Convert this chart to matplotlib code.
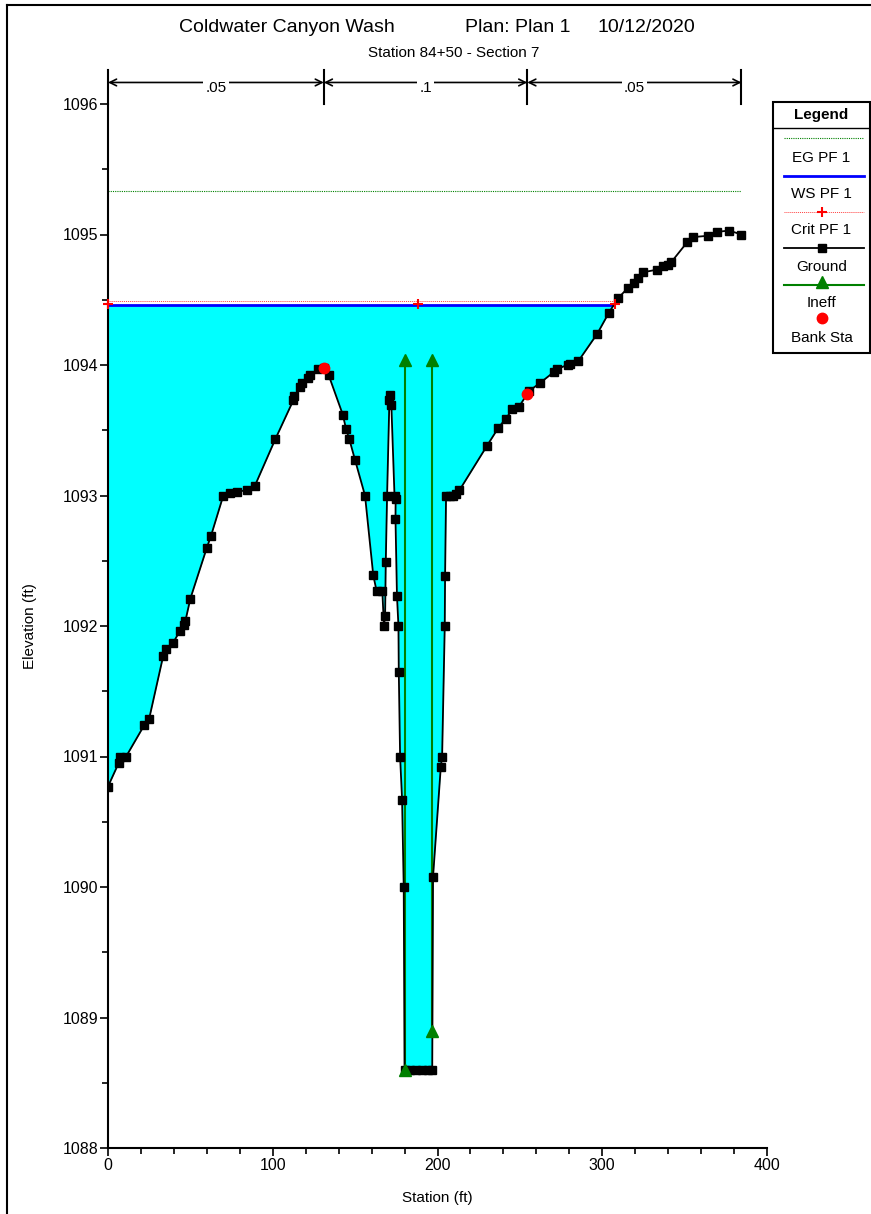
import matplotlib

matplotlib.use("Agg")
import matplotlib.pyplot as plt
from matplotlib.lines import Line2D
from matplotlib.patches import Rectangle
import numpy as np

plt.rcParams["font.family"] = ["Liberation Sans", "DejaVu Sans"]

# ---- cross-section geometry (station ft, elevation ft) ----
STATION = [
    0.0, 6.5, 7.5, 11.0, 22.0, 25.0, 33.5, 35.0, 39.5, 43.5,
    46.0, 47.0, 50.0, 60.0, 62.5, 70.0, 74.0, 78.0, 84.5, 89.0,
    101.5, 112.5, 113.0, 116.5, 118.0, 121.5, 122.5, 127.5, 131.0, 134.0,
    142.5, 144.5, 146.5, 150.0, 156.0, 161.0, 163.0, 166.5, 167.5, 168.2,
    168.6, 169.4, 170.8, 171.4, 172.0, 173.9, 174.6, 174.5, 175.4, 176.3,
    176.5, 177.3, 178.5, 179.5, 180.0, 183.5, 187.0, 190.5, 194.0, 196.8,
    197.3, 202.0, 202.8, 204.4, 204.6, 205.2, 207.5, 209.5, 211.5, 213.3,
    230.0, 237.0, 241.5, 245.5, 249.5, 255.5, 262.0, 271.0, 272.5, 279.0,
    280.5, 285.5, 297.0, 304.0, 309.5, 315.5, 319.5, 322.0, 324.5, 333.0,
    337.0, 340.0, 342.0, 351.5, 355.0, 364.0, 369.5, 377.0, 384.5,
]
ELEVATION = [
    1090.77, 1090.95, 1091.00, 1091.00, 1091.24, 1091.29, 1091.77, 1091.82, 1091.87, 1091.96,
    1092.01, 1092.04, 1092.21, 1092.60, 1092.69, 1093.00, 1093.02, 1093.03, 1093.04, 1093.07,
    1093.43, 1093.73, 1093.76, 1093.83, 1093.86, 1093.90, 1093.92, 1093.97, 1093.98, 1093.92,
    1093.62, 1093.51, 1093.43, 1093.27, 1093.00, 1092.39, 1092.27, 1092.27, 1092.00, 1092.08,
    1092.49, 1093.00, 1093.73, 1093.77, 1093.69, 1093.00, 1092.97, 1092.82, 1092.23, 1092.00,
    1091.65, 1091.00, 1090.67, 1090.00, 1088.60, 1088.60, 1088.60, 1088.60, 1088.60, 1088.60,
    1090.08, 1090.92, 1091.00, 1092.00, 1092.38, 1093.00, 1093.00, 1093.00, 1093.01, 1093.04,
    1093.38, 1093.52, 1093.59, 1093.66, 1093.68, 1093.80, 1093.86, 1093.95, 1093.97, 1094.00,
    1094.01, 1094.03, 1094.24, 1094.40, 1094.51, 1094.59, 1094.63, 1094.67, 1094.71, 1094.73,
    1094.76, 1094.77, 1094.79, 1094.94, 1094.98, 1094.99, 1095.02, 1095.03, 1095.00,
]
BANK_STA = [131.0, 254.5]
N_VALUES = [".05", ".1", ".05"]

# ---- profile PF 1 ----
WS_ELEV = 1094.46
CRIT_ELEV = 1094.47
CRIT_STA = [0.0, 188.0, 307.7]
EG_ELEV = 1095.33

# ---- ineffective flow areas ----
INEFF_STA = [180.0, 196.5]
INEFF_LOW = [1088.60, 1088.90]
INEFF_ELEV = 1094.04

W, H = 871, 1214
fig = plt.figure(figsize=(W / 100, H / 100), dpi=100)


def fx(px):
    return px / W


def fy(py):
    return 1 - py / H


ax = fig.add_axes([fx(108), fy(1148), (767 - 108) / W, (1148 - 104) / H])

sta = np.array(STATION)
elev = np.array(ELEVATION)

# right water edge: where the right overbank climbs through the WS
k = np.where((sta[:-1] > 250) & (elev[:-1] <= WS_ELEV) & (elev[1:] > WS_ELEV))[0][0]
ws_edge = np.interp(WS_ELEV, elev[k:k + 2], sta[k:k + 2])

# water fill
xs = np.append(sta[sta < ws_edge], ws_edge)
ys = np.append(elev[sta < ws_edge], WS_ELEV)
ax.fill_between(xs, ys, WS_ELEV, color="#00ffff", lw=0, zorder=1)

# energy grade, water surface, critical
ax.plot([sta[0], sta[-1]], [EG_ELEV, EG_ELEV], color="#008000", lw=0.8,
        ls=(0, (1, 1)), zorder=2)
ax.plot([sta[0], ws_edge], [WS_ELEV, WS_ELEV], color="#0000ff", lw=2.0, zorder=3)
ax.plot([sta[0], ws_edge], [CRIT_ELEV + 0.02, CRIT_ELEV + 0.02], color="#ff4040",
        lw=0.7, ls=(0, (1, 1)), zorder=3)
ax.plot(CRIT_STA, [CRIT_ELEV] * len(CRIT_STA), ls="none", marker="+",
        color="#ff0000", ms=7, mew=1.5, zorder=6, clip_on=False)

# ineffective flow lines
for s, lo in zip(INEFF_STA, INEFF_LOW):
    ax.plot([s, s], [lo, INEFF_ELEV], color="#008000", lw=1.5, zorder=4)
    ax.plot([s, s], [lo, INEFF_ELEV], ls="none", marker="^", color="#008000",
            ms=9, zorder=6)

# ground
ax.plot(sta, elev, color="black", lw=1.3, marker="s", ms=5.5, zorder=5)

# bank stations
ax.plot(BANK_STA, np.interp(BANK_STA, sta, elev), ls="none", marker="o",
        color="#ff0000", ms=7.5, zorder=7)

ax.set_xlim(0, 400)
ax.set_ylim(1088, 1096)
ax.set_xticks(np.arange(0, 401, 100))
ax.set_xticks(np.arange(0, 401, 20), minor=True)
ax.set_yticks(np.arange(1088, 1096.1, 1))
ax.set_yticks(np.arange(1088, 1096.1, 0.5), minor=True)
ax.tick_params(which="major", direction="out", length=6, width=1.2,
               labelsize=11.5, pad=1, color="black")
ax.tick_params(which="minor", direction="out", length=4, width=1.2)
for s in ("top", "right"):
    ax.spines[s].set_visible(False)
for s in ("left", "bottom"):
    ax.spines[s].set_linewidth(1.5)
ax.patch.set_alpha(0)

# Manning's n regions above the plot
n_breaks = [sta[0]] + BANK_STA + [sta[-1]]
bar_top, arrow_y, txt_y = 1096.26, 1096.165, 1096.125
for b in n_breaks:
    ax.plot([b, b], [1096, bar_top], color="black", lw=1.5, clip_on=False)
for a, b, lbl in zip(n_breaks[:-1], n_breaks[1:], N_VALUES):
    ax.annotate("", xy=(a, arrow_y), xytext=(b, arrow_y),
                arrowprops=dict(arrowstyle="<->", color="black", lw=1.2,
                                shrinkA=0, shrinkB=0, mutation_scale=12),
                annotation_clip=False)
    ax.text((a + b) / 2, txt_y, lbl, ha="center", va="center", fontsize=11,
            bbox=dict(facecolor="white", edgecolor="none", pad=1.5), zorder=8,
            clip_on=False)

# titles and axis labels
fig.text(fx(179), fy(28), "Coldwater Canyon Wash", fontsize=14, va="center")
fig.text(fx(465), fy(28), "Plan: Plan 1", fontsize=14, va="center")
fig.text(fx(597), fy(28), "10/12/2020", fontsize=14, va="center")
fig.text(fx(454), fy(53), "Station 84+50 - Section 7", fontsize=11,
         ha="center", va="center")
fig.text(fx(30), fy(626), "Elevation (ft)", fontsize=11, rotation=90,
         ha="center", va="center")
fig.text(fx(437), fy(1198), "Station (ft)", fontsize=11, ha="center",
         va="center")

# outer frame
fig.add_artist(Line2D([fx(7), fx(7)], [fy(5), 0], color="black", lw=1.5,
                      transform=fig.transFigure))
fig.add_artist(Line2D([fx(7), 1], [fy(5), fy(5)], color="black", lw=1.5,
                      transform=fig.transFigure))

# legend box
lx0, lx1, ly0, ly1 = 773, 870, 102, 353
fig.add_artist(Rectangle((fx(lx0), fy(ly1)), fx(lx1) - fx(lx0), fy(ly0) - fy(ly1),
                         transform=fig.transFigure, facecolor="white",
                         edgecolor="black", lw=1.5))
fig.add_artist(Line2D([fx(lx0), fx(lx1)], [fy(128), fy(128)], color="black",
                      lw=1.0, transform=fig.transFigure))
cx = (lx0 + lx1) / 2
fig.text(fx(cx), fy(115), "Legend", fontsize=11, fontweight="bold",
         ha="center", va="center")
entries = [
    ("EG PF 1", dict(color="#008000", lw=0.8, ls=(0, (1, 1))), None),
    ("WS PF 1", dict(color="#0000ff", lw=2.0), None),
    ("Crit PF 1", dict(color="#ff4040", lw=0.7, ls=(0, (1, 1))),
     dict(marker="+", color="#ff0000", ms=7, mew=1.5)),
    ("Ground", dict(color="black", lw=1.3), dict(marker="s", color="black", ms=5.5)),
    ("Ineff", dict(color="#008000", lw=1.5), dict(marker="^", color="#008000", ms=9)),
    ("Bank Sta", None, dict(marker="o", color="#ff0000", ms=7.5)),
]
line_y = [138, 176, 212, 248, 285, 318]
text_y = [158, 194, 230, 267, 303, 338]
for (lbl, lkw, mkw), y0, y1 in zip(entries, line_y, text_y):
    if lkw:
        fig.add_artist(Line2D([fx(784), fx(864)], [fy(y0), fy(y0)],
                              transform=fig.transFigure, **lkw))
    if mkw:
        fig.add_artist(Line2D([fx(cx)], [fy(y0 - (3 if lbl == "Ineff" else 0))],
                              ls="none", transform=fig.transFigure, **mkw))
    fig.text(fx(cx), fy(y1), lbl, fontsize=11, ha="center", va="center")

fig.savefig("out.png", dpi=100)
